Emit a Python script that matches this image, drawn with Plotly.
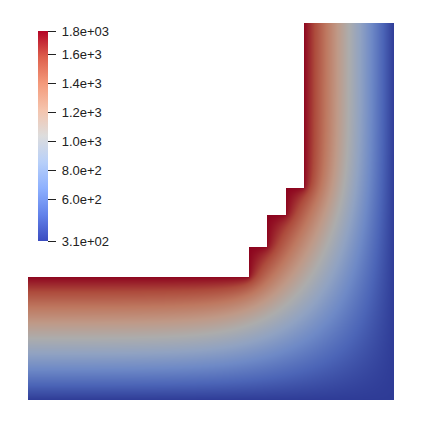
import numpy as np
import plotly.graph_objects as go

# L-shaped plate, model units (origin = bottom-left corner of the plate)
plate_w = 366
plate_h = 377
stair_x = [0, 221, 239, 258, 276]       # where each segment of the hot (inner) edge starts
stair_top = [123, 153, 185, 212, 377]   # top of the solid in each segment

t_hot = 1765.0    # inner stair edge
t_cold = 310.0    # bottom and right edges

cbar_vals = [310, 600, 800, 1000, 1200, 1400, 1600, 1765]
cbar_text = ["3.1e+02", "6.0e+2", "8.0e+2", "1.0e+3", "1.2e+3", "1.4e+3", "1.6e+3", "1.8e+03"]

# paraview "cool to warm"
cw_pos = [0.0, 0.125, 0.25, 0.375, 0.5, 0.625, 0.75, 0.875, 1.0]
cw_rgb = [(59, 76, 192), (98, 130, 234), (141, 176, 254), (184, 208, 249), (221, 221, 221),
          (245, 196, 173), (244, 154, 123), (222, 96, 77), (180, 4, 38)]


def scale(shade):
    return [[p, "rgb(%d,%d,%d)" % tuple(int(round(c * shade)) for c in rgb)] for p, rgb in zip(cw_pos, cw_rgb)]


# --- steady heat conduction on the plate (one ghost cell all round) ---
xc = np.arange(plate_w + 2) - 0.5
yc = np.arange(plate_h + 2) - 0.5
X, Y = np.meshgrid(xc, yc)

top = np.full(X.shape, float(plate_h))
for k in range(len(stair_x)):
    top[X >= stair_x[k]] = stair_top[k]

inside = (X > 0) & (X < plate_w) & (Y > 0) & (Y < plate_h) & (Y < top)
notch = (X > 0) & (X < plate_w) & (Y > 0) & (Y < plate_h) & (Y > top)

# first guess: linear across each arm
f = np.minimum(Y / stair_top[0], (plate_w - X) / (plate_w - stair_x[-1]))
T = t_cold + (t_hot - t_cold) * np.clip(f, 0, 1)

ii, jj = np.meshgrid(np.arange(X.shape[1]), np.arange(X.shape[0]))
red = (inside & ((ii + jj) % 2 == 0))[1:-1, 1:-1].astype(float)
black = (inside & ((ii + jj) % 2 == 1))[1:-1, 1:-1].astype(float)

omega = 1.97
for it in range(2500):
    for m in (red, black):
        T[notch] = t_hot
        T[:, -1] = t_cold
        T[0, :] = t_cold
        T[:, 0] = T[:, 1]      # insulated left end
        T[-1, :] = T[-2, :]    # insulated top end
        nb = 0.25 * (T[2:, 1:-1] + T[:-2, 1:-1] + T[1:-1, 2:] + T[1:-1, :-2])
        T[1:-1, 1:-1] += omega * m * (nb - T[1:-1, 1:-1])

Z = np.where(inside, T, np.nan)[1:-1, 1:-1]

fig = go.Figure()

# plate, with the flat shading of the render (darker than the bar)
fig.add_trace(go.Heatmap(
    x=xc[1:-1], y=yc[1:-1], z=Z,
    colorscale=scale(0.78), zmin=t_cold, zmax=t_hot,
    showscale=False, hoverinfo="skip"
))

# colour legend (page has an 8px body margin, so positions are shifted by 8)
fig.add_trace(go.Scatter(
    x=[-1000], y=[-1000], mode="markers", hoverinfo="skip", showlegend=False,
    marker=dict(
        color=[t_cold], colorscale=scale(1.0), cmin=t_cold, cmax=t_hot, showscale=True,
        colorbar=dict(
            x=30 / 423, xanchor="left", y=1 - 23 / 423, yanchor="top",
            lenmode="pixels", len=210, thickness=10, xpad=0, ypad=0,
            outlinewidth=0, ticks="outside", ticklen=8, tickwidth=1, tickcolor="#222",
            tickvals=cbar_vals, ticktext=["\u00a0" + t for t in cbar_text],
            tickfont=dict(family="Liberation Sans, Arial", size=13, color="#222")
        )
    )
))

fig.update_xaxes(range=[-20, 403], visible=False, showgrid=False, zeroline=False)
fig.update_yaxes(range=[-31, 392], visible=False, showgrid=False, zeroline=False)
fig.update_layout(
    width=423, height=423,
    margin=dict(l=0, r=0, t=0, b=0, autoexpand=False),
    paper_bgcolor="white", plot_bgcolor="white", showlegend=False
)

fig.write_html("out.html")
